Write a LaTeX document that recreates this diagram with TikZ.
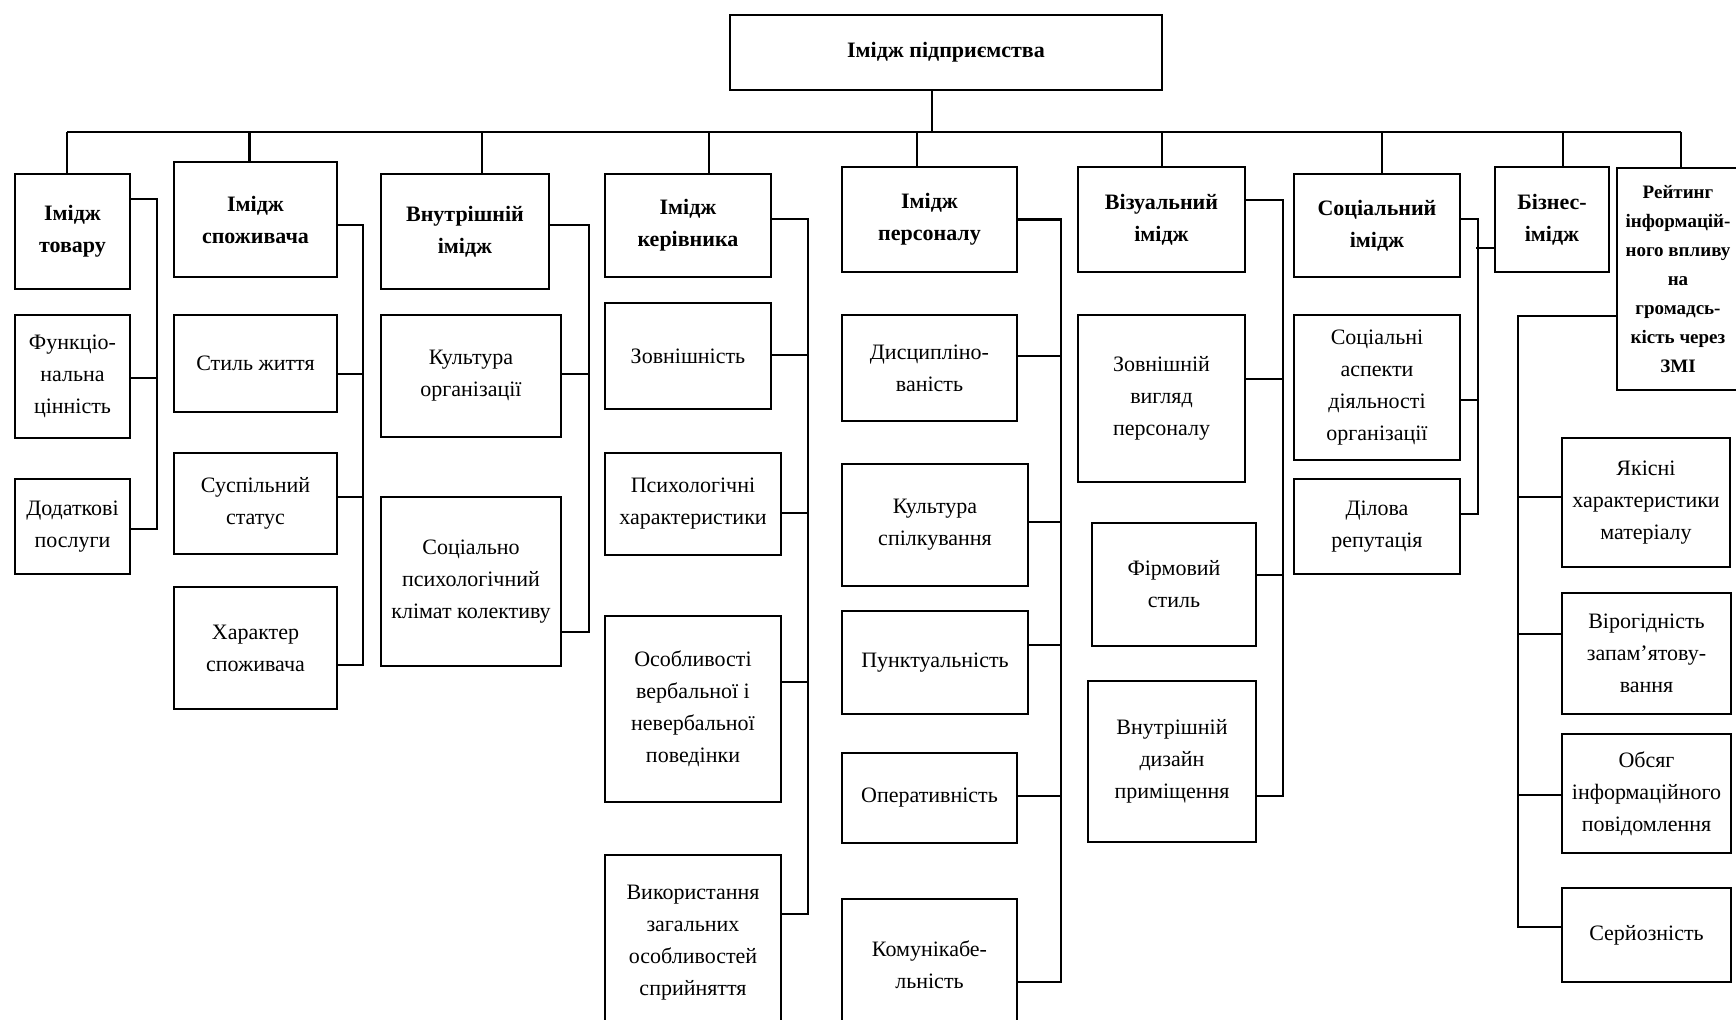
\documentclass[tikz,border=0pt]{standalone}
\usepackage{fontspec}
\setmainfont{Liberation Serif}
\usetikzlibrary{calc,positioning}

\begin{document}
\begin{tikzpicture}[x=0.5pt,y=-0.5pt,line width=1.1pt,
        box/.style={draw,align=center,inner sep=0pt,font=\fontsize{11}{16}\selectfont},
        head/.style={box,font=\fontsize{11}{16}\selectfont\bfseries}]
    \useasboundingbox (0,0) rectangle (1736,1019);
    \clip (0,0) rectangle (1736,1019);

    % top
    \node[head,minimum width=216pt,minimum height=37.5pt] (t0) at (946,52.5) {Імідж підприємства};

    % first level
    \node[head,minimum width=57.5pt,minimum height=57.5pt] (h1) at (72.5,231.5) {Імідж\\товару};
    \node[head,minimum width=81.5pt,minimum height=57.5pt] (h2) at (255.5,219.5) {Імідж\\споживача};
    \node[head,minimum width=84pt,minimum height=57.5pt] (h3) at (465,231.5) {Внутрішній\\імідж};
    \node[head,minimum width=83pt,minimum height=51.5pt] (h4) at (688,225.5) {Імідж\\керівника};
    \node[head,minimum width=87.5pt,minimum height=52.5pt] (h5) at (929.5,219.5) {Імідж\\персоналу};
    \node[head,minimum width=83.5pt,minimum height=52.5pt] (h6) at (1161.5,219.5) {Візуальний\\імідж};
    \node[head,minimum width=83pt,minimum height=51.5pt] (h7) at (1377,225.5) {Соціальний\\імідж};
    \node[head,minimum width=57pt,minimum height=52.5pt] (h8) at (1552,219.5) {Бізнес-\\імідж};
    \node[head,font=\fontsize{9.5}{14.5}\selectfont\bfseries,minimum width=61pt,minimum height=111pt] (h9) at (1678,279)
        {Рейтинг\\інформацій-\\ного впливу\\на\\громадсь-\\кість через\\ЗМІ};

    % bus
    \coordinate (d0) at (932,132);
    \coordinate (d1) at (67,132);
    \coordinate (d2) at (249.5,132);
    \coordinate (d3) at (482,132);
    \coordinate (d4) at (709,132);
    \coordinate (d5) at (917,132);
    \coordinate (d6) at (1162,132);
    \coordinate (d7) at (1382,132);
    \coordinate (d8) at (1563,132);
    \coordinate (d9) at (1681,132);
    \draw (d0) -- (d0 |- t0.south);
    \draw (d1) -- (d9);
    \foreach \i in {1,...,9}
        \draw (d\i) -- (d\i |- h\i.north);

    % товар
    \node[box,minimum width=57.5pt,minimum height=61.5pt] (c11) at (72.5,376.5) {Функціо-\\нальна\\цінність};
    \node[box,minimum width=57.5pt,minimum height=47.5pt] (c12) at (72.5,526.5) {Додаткові\\послуги};
    \draw ($(h1.east)+(0,-32.5)$) -- ++(26,0) |- ($(c12.east)+(0,2.5)$);
    \draw ($(c11.east)+(0,1.5)$) -- ++(26,0);

    % споживач
    \node[box,minimum width=81.5pt,minimum height=48.5pt] (c21) at (255.5,363.5) {Стиль життя};
    \node[box,minimum width=81.5pt,minimum height=50.5pt] (c22) at (255.5,503.5) {Суспільний\\статус};
    \node[box,minimum width=81.5pt,minimum height=61pt] (c23) at (255.5,648) {Характер\\споживача};
    \draw ($(h2.east)+(0,5.5)$) -- ++(25,0) |- ($(c23.east)+(0,17)$);
    \draw ($(c21.east)+(0,10.5)$) -- ++(25,0);
    \draw ($(c22.east)+(0,-6.5)$) -- ++(25,0);

    % внутрішній
    \node[box,minimum width=90pt,minimum height=61pt] (c31) at (471,376) {Культура\\організації};
    \node[box,minimum width=90pt,minimum height=84.5pt] (c32) at (471,581.5) {Соціально\\психологічний\\клімат колективу};
    \draw ($(h3.east)+(0,-6.5)$) -- ++(39,0) |- ($(c32.east)+(0,50.5)$);
    \draw ($(c31.east)+(0,-2)$) -- ++(27,0);

    % керівник
    \node[box,minimum width=83pt,minimum height=53pt] (c41) at (688,356) {Зовнішність};
    \node[box,minimum width=88pt,minimum height=51pt] (c42) at (693,504) {Психологічні\\характеристики};
    \node[box,minimum width=88pt,minimum height=93pt] (c43) at (693,709) {Особливості\\вербальної і\\невербальної\\поведінки};
    \node[box,minimum width=88pt,minimum height=87.5pt] (c44) at (693,942.5) {Використання\\загальних\\особливостей\\сприйняття};
    \draw ($(h4.east)+(0,-6.5)$) -- ++(36,0) |- ($(c44.east)+(0,-28.5)$);
    \draw ($(c41.east)+(0,-1)$) -- ++(36,0);
    \draw ($(c42.east)+(0,9)$) -- ++(26,0);
    \draw ($(c43.east)+(0,-27)$) -- ++(26,0);

    % персонал
    \node[box,minimum width=87.5pt,minimum height=53pt] (c51) at (929.5,368) {Дисципліно-\\ваність};
    \node[box,minimum width=93pt,minimum height=61pt] (c52) at (935,525) {Культура\\спілкування};
    \node[box,minimum width=93pt,minimum height=51.5pt] (c53) at (935,662.5) {Пунктуальність};
    \node[box,minimum width=87.5pt,minimum height=45pt] (c54) at (929.5,798) {Оперативність};
    \node[box,minimum width=87.5pt,minimum height=65.5pt] (c55) at (929.5,964.5) {Комунікабе-\\льність};
    \draw (h5.east) -- ++(43,0) |- ($(c55.east)+(0,17.5)$);
    \draw ($(c51.east)+(0,-12)$) -- ++(43,0);
    \draw ($(c52.east)+(0,-3)$) -- ++(32,0);
    \draw ($(c53.east)+(0,-17.5)$) -- ++(32,0);
    \draw ($(c54.east)+(0,-2)$) -- ++(43,0);

    % візуальний
    \node[box,minimum width=83.5pt,minimum height=83.5pt] (c61) at (1161.5,398.5) {Зовнішній\\вигляд\\персоналу};
    \node[box,minimum width=82pt,minimum height=61.5pt] (c62) at (1174,584.5) {Фірмовий\\стиль};
    \node[box,minimum width=84pt,minimum height=80.5pt] (c63) at (1172,761.5) {Внутрішній\\дизайн\\приміщення};
    \draw ($(h6.east)+(0,-19.5)$) -- ++(37,0) |- ($(c63.east)+(0,34.5)$);
    \draw ($(c61.east)+(0,-19.5)$) -- ++(37,0);
    \draw ($(c62.east)+(0,-9.5)$) -- ++(26,0);

    % соціальний
    \node[box,minimum width=83pt,minimum height=72.5pt] (c71) at (1377,387.5) {Соціальні\\аспекти\\діяльності\\організації};
    \node[box,minimum width=83pt,minimum height=47.5pt] (c72) at (1377,526.5) {Ділова\\репутація};
    \draw ($(h7.east)+(0,-6.5)$) -- ++(17,0) |- ($(c72.east)+(0,-12.5)$);
    \draw ($(c71.east)+(0,12.5)$) -- ++(17,0);
    \draw ($(h8.west)+(0,28.5)$) -- ++(-18,0);

    % рейтинг
    \node[box,minimum width=84pt,minimum height=64.5pt] (c91) at (1646,502.5) {Якісні\\характеристики\\матеріалу};
    \node[box,minimum width=84.5pt,minimum height=60.5pt] (c92) at (1646.5,653.5) {Вірогідність\\запам’ятову-\\вання};
    \node[box,minimum width=84.5pt,minimum height=59.5pt] (c93) at (1646.5,793.5) {Обсяг\\інформаційного\\повідомлення};
    \node[box,minimum width=84.5pt,minimum height=47pt] (c94) at (1646.5,935) {Серйозність};
    \draw ($(h9.west)+(0,37)$) -- ++(-98,0) |- ($(c94.west)+(0,-8)$);
    \draw ($(c91.west)+(0,-5.5)$) -- ++(-43,0);
    \draw ($(c92.west)+(0,-19.5)$) -- ++(-43,0);
    \draw ($(c93.west)+(0,1.5)$) -- ++(-43,0);
\end{tikzpicture}
\end{document}
